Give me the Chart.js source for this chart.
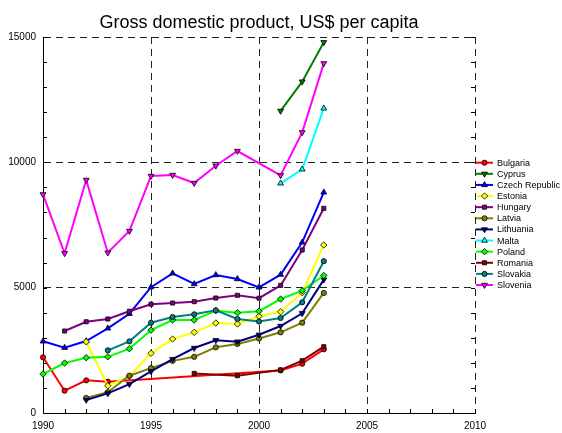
<!DOCTYPE html>
<html>
<head>
<meta charset="utf-8">
<script src="https://cdn.jsdelivr.net/npm/chart.js@4"></script>
<style>
  html, body { margin: 0; padding: 0; background: #fff; }
  canvas { display: block; }
</style>
</head>
<body>
<canvas id="gdp" width="562" height="433"></canvas>
<script>
// GDP per capita, US$, 1990-2003 (null = no figure for that year)
const years = [1990, 1991, 1992, 1993, 1994, 1995, 1996, 1997, 1998, 1999, 2000, 2001, 2002, 2003];
const countries = ['Bulgaria', 'Cyprus', 'Czech Republic', 'Estonia', 'Hungary', 'Latvia',
                   'Lithuania', 'Malta', 'Poland', 'Romania', 'Slovakia', 'Slovenia'];

const bulgaria  = [2222, 890, 1303, 1250, null, null, null, null, null, null, null, 1700, 1967, 2540];
const cyprus    = [null, null, null, null, null, null, null, null, null, null, null, 12050, 13220, 14790];
const czech     = [2860, 2605, 2872, 3378, 3960, 5020, 5572, 5146, 5505, 5345, 5013, 5520, 6808, 8803];
const estonia   = [null, null, 2840, 1085, 1470, 2380, 2952, 3218, 3590, 3550, 3860, 4042, 4800, 6701];
const hungary   = [null, 3271, 3640, 3750, 4060, 4340, 4388, 4441, 4587, 4694, 4580, 5090, 6502, 8165];
const latvia    = [null, null, 600, 830, 1488, 1790, 2080, 2240, 2620, 2752, 2970, 3218, 3603, 4790];
const lithuania = [null, null, 520, 784, 1150, 1660, 2150, 2593, 2900, 2845, 3120, 3470, 3977, 5320];
const malta     = [null, null, null, null, null, null, null, null, null, null, null, 9162, 9720, 12154];
const poland    = [1556, 1994, 2207, 2240, 2566, 3305, 3710, 3710, 4083, 4003, 4060, 4547, 4880, 5485];
const romania   = [null, null, null, null, null, null, null, 1580, null, 1488, null, 1720, 2087, 2646];
const slovakia  = [null, null, null, 2500, 2859, 3600, 3829, 3936, 4096, 3749, 3650, 3789, 4415, 6057];
const slovenia  = [8723, 6370, 9294, 6396, 7260, 9453, 9493, 9174, 9864, 10451, null, 9480, 11197, 13949];

const yTicks = [0, 5000, 10000, 15000];
const xTicks = [1990, 1995, 2000, 2005, 2010];

const seriesValues = [bulgaria, cyprus, czech, estonia, hungary, latvia,
                      lithuania, malta, poland, romania, slovakia, slovenia];

// line colour, marker shape, marker rotation (180 = downward triangle)
const styles = [
  ['#ff0000', 'circle',   0],
  ['#008000', 'triangle', 180],
  ['#0000ff', 'triangle', 0],
  ['#ffff00', 'rectRot',  0],
  ['#800080', 'rect',     0],
  ['#808000', 'circle',   0],
  ['#000080', 'triangle', 180],
  ['#00ffff', 'triangle', 0],
  ['#00ff00', 'rectRot',  0],
  ['#800000', 'rect',     0],
  ['#008080', 'circle',   0],
  ['#ff00ff', 'triangle', 180]
];

const markerRadius = { circle: 2.6, triangle: 3.4, rectRot: 3.2, rect: 2.9 };
const FONT = '"Liberation Sans", Arial, Helvetica, sans-serif';

const datasets = countries.map((name, i) => {
  const [color, shape, rot] = styles[i];
  return {
    label: name,
    data: years.map((yr, j) => ({ x: yr, y: seriesValues[i][j] })),
    borderColor: color,
    backgroundColor: color,
    borderWidth: 2,
    pointStyle: shape,
    pointRotation: rot,
    pointRadius: markerRadius[shape],
    pointBackgroundColor: color,
    pointBorderColor: '#000',
    pointBorderWidth: 0.8,
    spanGaps: true,
    tension: 0,
    clip: 6,
    order: countries.length - i
  };
});

// small inward ticks: every year on the x axis, every 1000 on the y axis (mirrored right)
const minorTicks = {
  id: 'minorTicks',
  afterDatasetsDraw(chart) {
    const { ctx, chartArea: a, scales: { x, y } } = chart;
    ctx.save();
    ctx.strokeStyle = '#000';
    ctx.lineWidth = 1;
    ctx.beginPath();
    for (let yr = 1990; yr <= 2010; yr++) {
      const px = Math.round(x.getPixelForValue(yr)) + 0.5;
      ctx.moveTo(px, a.bottom);
      ctx.lineTo(px, a.bottom - 4);
    }
    for (let v = 0; v <= 15000; v += 1000) {
      const py = Math.round(y.getPixelForValue(v)) + 0.5;
      ctx.moveTo(a.left, py);
      ctx.lineTo(a.left + 4, py);
      ctx.moveTo(a.right, py);
      ctx.lineTo(a.right - 4, py);
    }
    ctx.stroke();
    ctx.restore();
  }
};

// key on the right: short line with the marker, then the country name
const sideKey = {
  id: 'sideKey',
  afterDraw(chart) {
    const { ctx } = chart;
    const x0 = 476, x1 = 493, top = 162.7, step = 11.12;
    ctx.save();
    chart.data.datasets.forEach((ds, i) => {
      const yy = top + i * step;
      ctx.strokeStyle = ds.borderColor;
      ctx.lineWidth = 2;
      ctx.beginPath();
      ctx.moveTo(x0, yy);
      ctx.lineTo(x1, yy);
      ctx.stroke();
      ctx.fillStyle = ds.pointBackgroundColor;
      ctx.strokeStyle = '#000';
      ctx.lineWidth = 0.8;
      Chart.helpers.drawPoint(ctx, {
        pointStyle: ds.pointStyle,
        rotation: ds.pointRotation,
        radius: ds.pointRadius,
        borderWidth: 0.8
      }, (x0 + x1) / 2, yy);
      ctx.fillStyle = '#000';
      ctx.font = '9px ' + FONT;
      ctx.textAlign = 'left';
      ctx.textBaseline = 'middle';
      ctx.fillText(ds.label, 497, yy + 0.5);
    });
    ctx.restore();
  }
};

new Chart(document.getElementById('gdp'), {
  type: 'line',
  data: { datasets },
  plugins: [minorTicks, sideKey],
  options: {
    responsive: false,
    animation: false,
    events: [],
    layout: { padding: { left: 0, right: 87, top: 0, bottom: 0 } },
    plugins: {
      legend: { display: false },
      tooltip: { enabled: false },
      title: {
        display: true,
        fullSize: false,
        text: 'Gross domestic product, US$ per capita',
        color: '#000',
        font: { family: FONT, size: 18, weight: 'normal', lineHeight: 1.2 },
        padding: { top: 12, bottom: 3.4 }
      }
    },
    scales: {
      x: {
        type: 'linear',
        min: 1990,
        max: 2010,
        afterBuildTicks(scale) { scale.ticks = xTicks.map(v => ({ value: v })); },
        afterFit(scale) { scale.height = 20; },
        ticks: {
          color: '#000',
          font: { family: FONT, size: 10 },
          padding: 7,
          maxRotation: 0,
          callback: v => String(v)
        },
        grid: { color: '#222', lineWidth: 1, drawTicks: false },
        border: { display: true, color: '#000', width: 1, dash: [7, 5] }
      },
      y: {
        type: 'linear',
        min: 0,
        max: 15000,
        afterBuildTicks(scale) { scale.ticks = yTicks.map(v => ({ value: v })); },
        afterFit(scale) { scale.width = 43; },
        ticks: {
          color: '#000',
          font: { family: FONT, size: 10 },
          padding: 7,
          callback: v => String(v)
        },
        grid: { color: '#222', lineWidth: 1, drawTicks: false },
        border: { display: true, color: '#000', width: 1, dash: [7, 5] }
      }
    }
  }
});
</script>
</body>
</html>
